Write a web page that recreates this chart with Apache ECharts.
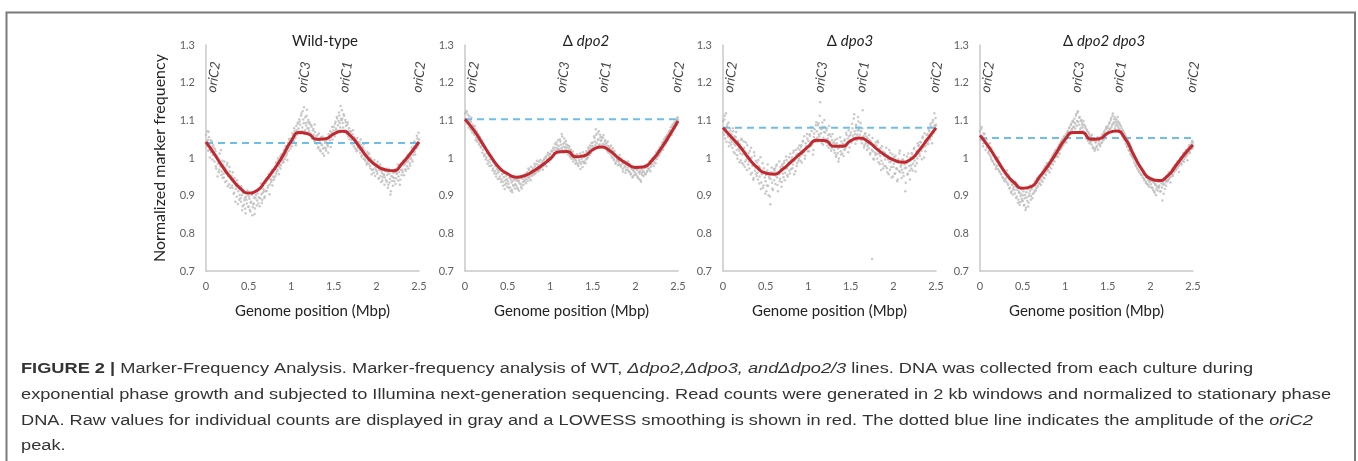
<!DOCTYPE html>
<html>
<head>
<meta charset="utf-8">
<script src="https://cdn.jsdelivr.net/npm/echarts@6/dist/echarts.min.js"></script>
<style>
html,body{margin:0;padding:0;background:#fff;}
#chart{width:1358px;height:461px;}
</style>
</head>
<body>
<div id="chart"></div>
<script>
// ---------- DATA ----------
const panelTitles = ['Wild-type', 'Δ dpo2', 'Δ dpo3', 'Δ dpo2 dpo3'];
const yTicks = [0.7, 0.8, 0.9, 1.0, 1.1, 1.2, 1.3];
const xTicks = [0, 0.5, 1, 1.5, 2, 2.5];
const originLabels = ['oriC2', 'oriC3', 'oriC1', 'oriC2'];
const originLabelX = [0.09, 1.15, 1.64, 2.5];
const originLabelY = 1.215;
const oriC2Amplitude = [1.04, 1.103, 1.08, 1.053];

// window positions (Mbp) for raw counts, set A
const windowMbp = [
0.00,0.01,0.02,0.03,0.04,0.05,0.06,0.07,0.08,0.09,
0.10,0.11,0.12,0.13,0.14,0.15,0.16,0.17,0.18,0.19,
0.20,0.21,0.22,0.23,0.24,0.25,0.26,0.27,0.28,0.29,
0.30,0.31,0.32,0.33,0.34,0.35,0.36,0.37,0.38,0.39,
0.40,0.41,0.42,0.43,0.44,0.45,0.46,0.47,0.48,0.49,
0.50,0.51,0.52,0.53,0.54,0.55,0.56,0.57,0.58,0.59,
0.60,0.61,0.62,0.63,0.64,0.65,0.66,0.67,0.68,0.69,
0.70,0.71,0.72,0.73,0.74,0.75,0.76,0.77,0.78,0.79,
0.80,0.81,0.82,0.83,0.84,0.85,0.86,0.87,0.88,0.89,
0.90,0.91,0.92,0.93,0.94,0.95,0.96,0.97,0.98,0.99,
1.00,1.01,1.02,1.03,1.04,1.05,1.06,1.07,1.08,1.09,
1.10,1.11,1.12,1.13,1.14,1.15,1.16,1.17,1.18,1.19,
1.20,1.21,1.22,1.23,1.24,1.25,1.26,1.27,1.28,1.29,
1.30,1.31,1.32,1.33,1.34,1.35,1.36,1.37,1.38,1.39,
1.40,1.41,1.42,1.43,1.44,1.45,1.46,1.47,1.48,1.49,
1.50,1.51,1.52,1.53,1.54,1.55,1.56,1.57,1.58,1.59,
1.60,1.61,1.62,1.63,1.64,1.65,1.66,1.67,1.68,1.69,
1.70,1.71,1.72,1.73,1.74,1.75,1.76,1.77,1.78,1.79,
1.80,1.81,1.82,1.83,1.84,1.85,1.86,1.87,1.88,1.89,
1.90,1.91,1.92,1.93,1.94,1.95,1.96,1.97,1.98,1.99,
2.00,2.01,2.02,2.03,2.04,2.05,2.06,2.07,2.08,2.09,
2.10,2.11,2.12,2.13,2.14,2.15,2.16,2.17,2.18,2.19,
2.20,2.21,2.22,2.23,2.24,2.25,2.26,2.27,2.28,2.29,
2.30,2.31,2.32,2.33,2.34,2.35,2.36,2.37,2.38,2.39,
2.40,2.41,2.42,2.43,2.44,2.45,2.46,2.47,2.48,2.49,
2.50];

// window positions (Mbp) for raw counts, set B
const windowMbpB = [
0.005,0.015,0.025,0.035,0.045,0.055,0.065,0.075,0.085,0.095,
0.105,0.115,0.125,0.135,0.145,0.155,0.165,0.175,0.185,0.195,
0.205,0.215,0.225,0.235,0.245,0.255,0.265,0.275,0.285,0.295,
0.305,0.315,0.325,0.335,0.345,0.355,0.365,0.375,0.385,0.395,
0.405,0.415,0.425,0.435,0.445,0.455,0.465,0.475,0.485,0.495,
0.505,0.515,0.525,0.535,0.545,0.555,0.565,0.575,0.585,0.595,
0.605,0.615,0.625,0.635,0.645,0.655,0.665,0.675,0.685,0.695,
0.705,0.715,0.725,0.735,0.745,0.755,0.765,0.775,0.785,0.795,
0.805,0.815,0.825,0.835,0.845,0.855,0.865,0.875,0.885,0.895,
0.905,0.915,0.925,0.935,0.945,0.955,0.965,0.975,0.985,0.995,
1.005,1.015,1.025,1.035,1.045,1.055,1.065,1.075,1.085,1.095,
1.105,1.115,1.125,1.135,1.145,1.155,1.165,1.175,1.185,1.195,
1.205,1.215,1.225,1.235,1.245,1.255,1.265,1.275,1.285,1.295,
1.305,1.315,1.325,1.335,1.345,1.355,1.365,1.375,1.385,1.395,
1.405,1.415,1.425,1.435,1.445,1.455,1.465,1.475,1.485,1.495,
1.505,1.515,1.525,1.535,1.545,1.555,1.565,1.575,1.585,1.595,
1.605,1.615,1.625,1.635,1.645,1.655,1.665,1.675,1.685,1.695,
1.705,1.715,1.725,1.735,1.745,1.755,1.765,1.775,1.785,1.795,
1.805,1.815,1.825,1.835,1.845,1.855,1.865,1.875,1.885,1.895,
1.905,1.915,1.925,1.935,1.945,1.955,1.965,1.975,1.985,1.995,
2.005,2.015,2.025,2.035,2.045,2.055,2.065,2.075,2.085,2.095,
2.105,2.115,2.125,2.135,2.145,2.155,2.165,2.175,2.185,2.195,
2.205,2.215,2.225,2.235,2.245,2.255,2.265,2.275,2.285,2.295,
2.305,2.315,2.325,2.335,2.345,2.355,2.365,2.375,2.385,2.395,
2.405,2.415,2.425,2.435,2.445,2.455,2.465,2.475,2.485,2.495];

const rawWT = [
1.062,1.031,1.048,1.070,1.022,1.039,1.015,1.044,1.008,1.027,
0.991,1.018,0.972,1.003,0.985,0.962,1.012,0.978,0.955,0.993,
0.982,0.948,0.975,0.961,0.939,0.987,0.952,0.930,0.965,0.944,
0.953,0.921,0.944,0.908,0.936,0.918,0.897,0.931,0.912,0.889,
0.918,0.884,0.901,0.872,0.910,0.888,0.865,0.897,0.879,0.903,
0.871,0.892,0.858,0.884,0.902,0.869,0.879,0.851,0.893,0.912,
0.887,0.915,0.896,0.872,0.921,0.904,0.889,0.928,0.911,0.898,
0.934,0.912,0.947,0.926,0.951,0.930,0.962,0.941,0.927,0.969,
0.948,0.975,0.959,0.986,0.968,0.993,0.977,1.004,0.981,0.995,
1.012,0.989,1.021,1.004,1.028,1.013,1.040,1.019,1.046,1.025,
1.052,1.031,1.060,1.044,1.072,1.053,1.085,1.062,1.094,1.070,
1.097,1.066,1.118,1.081,1.102,1.135,1.074,1.093,1.112,1.079,
1.101,1.072,1.090,1.061,1.083,1.058,1.077,1.045,1.069,1.052,
1.038,1.061,1.029,1.047,1.021,1.055,1.034,1.012,1.049,1.027,
1.044,1.019,1.052,1.031,1.063,1.040,1.071,1.056,1.082,1.061,
1.083,1.058,1.096,1.074,1.105,1.087,1.121,1.093,1.138,1.100,
1.104,1.081,1.112,1.073,1.095,1.066,1.088,1.057,1.079,1.062,
1.071,1.048,1.063,1.039,1.055,1.026,1.047,1.018,1.041,1.030,
1.042,1.013,1.035,1.007,1.026,0.998,1.019,0.992,1.011,0.987,
1.008,0.985,1.001,0.972,0.994,0.968,0.989,0.961,0.982,0.975,
0.983,0.958,0.976,0.947,0.971,0.952,0.966,0.940,0.973,0.955,
0.948,0.972,0.937,0.963,0.929,0.958,0.944,0.912,0.967,0.950,
0.961,0.938,0.970,0.946,0.958,0.983,0.951,0.976,0.942,0.968,
0.986,0.962,0.981,0.995,0.970,1.002,0.978,0.993,1.010,0.987,
1.014,0.996,1.022,1.008,1.031,1.017,1.040,1.026,1.052,1.038,
1.049];
const rawWTB = [
1.036,1.071,1.019,1.055,1.001,1.047,1.029,0.996,1.034,1.012,
1.024,0.978,1.006,0.951,0.997,0.969,0.988,1.021,0.964,0.947,
0.958,0.991,0.936,0.969,0.981,0.925,0.958,0.976,0.921,0.951,
0.927,0.962,0.905,0.947,0.884,0.925,0.941,0.878,0.919,0.902,
0.893,0.925,0.861,0.907,0.876,0.894,0.853,0.889,0.914,0.870,
0.898,0.862,0.881,0.907,0.848,0.877,0.895,0.866,0.901,0.874,
0.906,0.879,0.917,0.893,0.932,0.881,0.908,0.917,0.894,0.934,
0.913,0.940,0.921,0.957,0.904,0.944,0.936,0.968,0.951,0.942,
0.971,0.952,0.988,0.964,0.999,0.957,0.983,0.972,1.009,0.988,
0.994,1.019,0.998,1.032,1.008,0.995,1.027,1.051,1.033,1.041,
1.039,1.066,1.047,1.079,1.058,1.034,1.073,1.091,1.078,1.103,
1.088,1.112,1.071,1.124,1.092,1.064,1.108,1.086,1.128,1.094,
1.079,1.095,1.066,1.087,1.051,1.073,1.062,1.089,1.041,1.058,
1.049,1.026,1.065,1.041,1.018,1.038,1.057,1.025,1.006,1.040,
1.025,1.048,1.036,1.014,1.058,1.047,1.029,1.067,1.049,1.074,
1.065,1.091,1.078,1.109,1.069,1.098,1.113,1.081,1.104,1.127,
1.093,1.116,1.069,1.101,1.085,1.063,1.094,1.072,1.050,1.069,
1.056,1.038,1.074,1.031,1.051,1.042,1.022,1.053,1.027,1.036,
1.021,1.049,1.003,1.030,1.015,1.037,0.996,1.005,0.983,1.016,
0.993,1.012,0.979,0.999,0.957,0.984,0.970,0.995,0.952,0.969,
0.964,0.990,0.945,0.968,0.983,0.936,0.961,0.949,0.957,0.929,
0.966,0.941,0.955,0.921,0.971,0.935,0.903,0.952,0.939,0.926,
0.947,0.965,0.931,0.959,0.973,0.940,0.962,0.929,0.981,0.955,
0.969,0.993,0.954,0.984,0.966,0.989,1.008,0.972,0.999,0.980,
1.001,1.027,0.991,1.015,1.044,1.009,1.028,1.059,1.033,1.067];

const rawDpo2 = [
1.118,1.097,1.125,1.102,1.089,1.110,1.084,1.096,1.073,1.088,
1.082,1.061,1.077,1.054,1.069,1.048,1.060,1.039,1.052,1.031,
1.046,1.022,1.033,1.009,1.027,1.001,1.018,0.993,1.006,0.988,
1.004,0.981,0.996,0.972,0.989,0.965,0.983,0.958,0.976,0.962,
0.972,0.951,0.966,0.943,0.958,0.937,0.961,0.929,0.952,0.944,
0.956,0.931,0.948,0.922,0.943,0.915,0.939,0.926,0.951,0.930,
0.927,0.946,0.918,0.940,0.933,0.952,0.924,0.945,0.936,0.955,
0.938,0.957,0.944,0.962,0.949,0.968,0.953,0.941,0.966,0.957,
0.973,0.956,0.978,0.962,0.984,0.968,0.976,0.990,0.971,0.982,
0.974,0.991,0.979,0.998,0.985,1.004,0.989,1.008,0.994,1.003,
1.011,0.996,1.017,1.004,1.022,1.009,1.028,1.014,1.035,1.021,
1.032,1.018,1.044,1.026,1.057,1.030,1.015,1.041,1.024,1.036,
1.028,1.010,1.025,1.003,1.019,0.998,1.012,0.991,1.008,0.996,
1.006,0.987,1.001,0.979,0.995,1.012,0.984,0.998,0.976,1.004,
0.991,1.009,0.996,1.014,1.002,1.021,1.007,1.026,1.013,1.032,
1.041,1.022,1.053,1.034,1.062,1.028,1.047,1.071,1.036,1.055,
1.048,1.031,1.054,1.036,1.043,1.025,1.039,1.018,1.032,1.021,
1.027,1.009,1.022,1.001,1.016,0.994,1.010,0.988,1.003,0.992,
1.002,0.984,0.998,0.977,0.993,0.971,0.987,0.975,0.990,0.968,
0.986,0.969,0.981,0.962,0.977,0.958,0.973,0.951,0.970,0.963,
0.972,0.954,0.968,0.947,0.963,0.958,0.941,0.971,0.955,0.966,
0.962,0.978,0.957,0.975,0.966,0.983,0.970,0.987,0.976,0.992,
0.984,1.001,0.990,1.008,0.997,1.013,1.004,1.021,1.010,1.027,
1.019,1.036,1.028,1.044,1.033,1.051,1.040,1.058,1.047,1.066,
1.059,1.074,1.066,1.083,1.072,1.089,1.078,1.095,1.086,1.104,
1.101];
const rawDpo2B = [
1.104,1.121,1.092,1.115,1.081,1.099,1.076,1.107,1.068,1.083,
1.066,1.085,1.047,1.071,1.043,1.063,1.035,1.056,1.028,1.046,
1.014,1.038,1.005,1.029,0.996,1.013,0.985,1.009,0.979,0.997,
0.979,0.998,0.967,0.991,0.959,0.978,0.951,0.970,0.944,0.966,
0.945,0.968,0.936,0.957,0.926,0.949,0.918,0.941,0.933,0.924,
0.938,0.921,0.947,0.913,0.935,0.909,0.928,0.944,0.919,0.940,
0.943,0.921,0.938,0.913,0.947,0.930,0.919,0.951,0.928,0.942,
0.950,0.933,0.959,0.939,0.972,0.946,0.961,0.977,0.952,0.969,
0.961,0.985,0.958,0.972,0.993,0.964,0.981,0.967,0.995,0.977,
0.987,0.969,0.995,0.982,1.001,0.978,0.996,1.014,0.990,1.009,
0.998,1.019,1.006,1.027,1.013,1.037,1.020,1.042,1.026,1.048,
1.023,1.049,1.035,1.064,1.021,1.038,1.052,1.029,1.045,1.018,
1.034,1.016,1.031,1.007,1.022,1.004,1.017,0.999,1.005,0.985,
0.993,1.010,0.983,1.004,0.989,0.971,1.008,0.990,1.015,0.987,
1.003,0.986,1.018,0.999,1.027,1.010,1.033,1.016,1.040,1.024,
1.030,1.058,1.044,1.076,1.039,1.066,1.050,1.035,1.062,1.045,
1.056,1.037,1.061,1.029,1.047,1.033,1.026,1.044,1.014,1.029,
1.015,1.033,1.004,1.026,0.998,1.019,0.985,1.007,0.996,0.981,
0.991,1.008,0.981,0.999,0.985,0.964,0.993,0.979,0.961,0.983,
0.975,0.991,0.965,0.984,0.956,0.971,0.948,0.966,0.955,0.974,
0.959,0.977,0.950,0.972,0.944,0.965,0.937,0.961,0.976,0.952,
0.974,0.958,0.982,0.963,0.979,0.972,0.991,0.965,0.983,0.998,
0.993,0.979,1.004,0.986,1.015,0.999,1.019,1.006,1.028,1.015,
1.029,1.041,1.022,1.049,1.038,1.056,1.043,1.062,1.052,1.071,
1.067,1.081,1.061,1.088,1.077,1.094,1.083,1.101,1.091,1.108];

const rawDpo3 = [
1.098,1.061,1.112,1.074,1.043,1.089,1.056,1.031,1.078,1.049,
1.064,1.027,1.071,1.038,1.012,1.055,1.021,0.998,1.046,1.019,
1.036,0.994,1.048,1.009,0.982,1.027,0.991,1.041,0.968,1.004,
1.013,0.972,0.998,1.027,0.961,0.985,0.947,1.006,0.974,0.958,
0.988,0.943,0.979,0.951,1.002,0.935,0.966,0.921,0.973,0.948,
0.938,0.912,0.967,0.926,0.951,0.898,0.944,0.975,0.919,0.960,
0.941,0.972,0.953,0.983,0.928,0.962,0.991,0.945,0.970,0.936,
0.978,0.949,0.992,0.961,1.004,0.972,0.951,0.989,0.967,1.011,
0.971,1.002,0.983,1.019,0.992,0.965,1.008,0.987,1.026,0.998,
1.021,0.993,1.034,1.009,1.046,1.017,0.998,1.039,1.024,1.052,
1.046,1.018,1.059,1.031,1.072,1.042,1.021,1.065,1.049,1.087,
1.071,1.043,1.092,1.058,1.148,1.066,1.039,1.083,1.054,1.101,
1.068,1.041,1.079,1.052,1.027,1.063,1.036,1.019,1.048,1.031,
1.042,1.014,1.036,1.008,1.051,1.025,0.999,1.033,1.018,1.044,
1.012,1.038,1.021,1.049,1.029,1.061,1.037,1.015,1.058,1.043,
1.068,1.041,1.079,1.052,1.116,1.063,1.088,1.047,1.073,1.097,
1.081,1.052,1.071,1.039,1.127,1.058,1.034,1.066,1.045,1.021,
1.052,1.026,1.047,1.013,1.039,0.732,1.018,0.996,1.035,1.008,
1.033,0.998,1.041,1.011,0.984,1.026,0.993,1.017,0.972,1.006,
1.013,0.978,1.004,0.962,0.996,1.021,0.969,0.991,0.948,1.009,
0.976,1.002,0.958,0.994,0.971,0.943,0.988,1.012,0.962,0.981,
0.969,0.997,0.952,0.983,0.912,0.975,1.004,0.958,0.991,0.966,
1.001,0.972,1.009,0.985,1.024,0.993,0.964,1.018,0.999,1.032,
1.034,1.005,1.041,1.019,1.053,1.028,1.001,1.046,1.032,1.061,
1.063,1.037,1.071,1.049,1.084,1.058,1.095,1.072,1.119,1.083,
1.088];
const rawDpo3B = [
1.067,1.102,1.052,1.119,1.083,1.061,1.094,1.041,1.072,1.036,
1.043,1.079,1.016,1.058,1.033,1.069,1.007,1.042,1.025,0.989,
1.012,1.051,0.987,1.023,1.044,0.976,1.015,0.996,1.034,0.983,
0.991,1.019,0.956,1.001,0.979,0.942,1.015,0.966,0.993,0.952,
0.961,0.995,0.932,0.974,0.918,0.957,0.986,0.927,0.964,0.905,
0.955,0.927,0.983,0.901,0.946,0.877,0.962,0.934,0.915,0.971,
0.966,0.931,0.979,0.948,0.912,0.957,0.938,0.976,0.924,0.983,
0.958,0.987,0.941,0.976,0.995,0.955,0.983,1.002,0.959,0.993,
0.996,0.973,1.014,0.957,0.999,1.021,0.979,1.011,0.992,1.033,
1.004,1.029,0.988,1.043,1.015,1.058,1.006,1.031,1.064,1.018,
1.029,1.063,1.041,1.082,1.035,1.009,1.056,1.076,1.043,1.095,
1.054,1.087,1.063,1.112,1.047,1.076,1.094,1.035,1.069,1.082,
1.049,1.074,1.033,1.061,1.085,1.042,1.057,1.026,1.064,1.039,
1.021,1.048,1.003,1.039,1.013,0.991,1.028,1.055,1.009,1.036,
1.031,1.005,1.046,1.023,1.067,1.035,1.052,1.074,1.028,1.061,
1.047,1.091,1.059,1.105,1.071,1.038,1.084,1.062,1.109,1.075,
1.062,1.093,1.047,1.079,1.055,1.028,1.064,1.039,1.057,1.032,
1.037,1.061,1.009,1.044,1.022,1.053,0.998,1.029,1.014,1.042,
1.011,1.046,0.989,1.024,1.005,0.968,1.031,0.985,1.016,0.979,
0.996,1.027,0.973,1.005,0.957,0.989,1.014,0.976,0.999,0.951,
0.985,0.959,1.006,0.973,0.938,0.997,0.966,1.019,0.977,0.947,
0.994,0.961,1.008,0.973,0.934,0.987,0.956,1.012,0.979,0.943,
0.981,1.013,0.967,0.998,1.027,0.979,1.005,0.986,1.039,1.011,
1.012,1.043,1.024,0.997,1.057,1.031,1.066,1.018,1.049,1.038,
1.044,1.076,1.053,1.091,1.062,1.039,1.101,1.068,1.087,1.106];

const rawDpo23 = [
1.071,1.048,1.082,1.055,1.039,1.063,1.041,1.052,1.028,1.037,
1.031,1.009,1.024,0.998,1.016,0.991,1.006,0.982,0.999,0.977,
0.994,0.971,0.989,0.963,0.978,0.956,0.972,0.947,0.965,0.942,
0.961,0.937,0.953,0.928,0.944,0.921,0.936,0.912,0.930,0.918,
0.931,0.906,0.924,0.898,0.915,0.889,0.910,0.883,0.905,0.892,
0.887,0.911,0.876,0.902,0.868,0.895,0.918,0.881,0.906,0.927,
0.899,0.922,0.905,0.931,0.913,0.938,0.920,0.947,0.926,0.941,
0.932,0.955,0.941,0.963,0.949,0.972,0.958,0.979,0.964,0.985,
0.968,0.989,0.976,0.998,0.985,1.006,0.993,1.014,1.001,1.021,
1.008,1.027,1.014,1.036,1.022,1.043,1.030,1.051,1.038,1.058,
1.044,1.063,1.052,1.072,1.060,1.081,1.069,1.091,1.077,1.099,
1.083,1.104,1.091,1.117,1.098,1.124,1.088,1.109,1.079,1.101,
1.093,1.071,1.088,1.064,1.079,1.057,1.071,1.049,1.063,1.044,
1.058,1.036,1.051,1.029,1.047,1.024,1.043,1.032,1.055,1.038,
1.048,1.031,1.056,1.042,1.063,1.050,1.071,1.058,1.082,1.066,
1.084,1.067,1.095,1.078,1.106,1.088,1.118,1.094,1.109,1.086,
1.103,1.086,1.097,1.077,1.089,1.066,1.079,1.058,1.071,1.049,
1.061,1.038,1.052,1.029,1.044,1.019,1.033,1.008,1.023,1.001,
1.011,0.988,1.002,0.979,0.994,0.970,0.985,0.962,0.976,0.955,
0.969,0.948,0.963,0.941,0.956,0.933,0.951,0.928,0.944,0.936,
0.943,0.922,0.939,0.915,0.934,0.908,0.931,0.918,0.941,0.924,
0.921,0.938,0.912,0.933,0.887,0.929,0.946,0.918,0.937,0.952,
0.938,0.956,0.944,0.961,0.950,0.968,0.957,0.974,0.963,0.979,
0.968,0.986,0.974,0.991,0.980,0.997,0.986,1.003,0.992,1.009,
0.998,1.016,1.004,1.022,1.011,1.029,1.017,1.035,1.024,1.046,
1.041];
const rawDpo23B = [
1.049,1.077,1.058,1.031,1.066,1.042,1.021,1.049,1.035,1.014,
1.018,1.039,1.004,1.027,0.993,1.012,0.985,1.003,0.971,0.992,
0.980,1.001,0.966,0.984,0.958,0.977,0.949,0.968,0.939,0.957,
0.946,0.967,0.932,0.955,0.919,0.941,0.908,0.929,0.903,0.924,
0.915,0.937,0.894,0.921,0.881,0.908,0.876,0.899,0.917,0.885,
0.901,0.874,0.893,0.862,0.909,0.886,0.871,0.899,0.913,0.889,
0.917,0.893,0.928,0.907,0.935,0.914,0.942,0.924,0.951,0.933,
0.945,0.928,0.959,0.937,0.968,0.946,0.977,0.955,0.986,0.969,
0.979,0.962,0.994,0.972,1.002,0.983,1.010,0.991,1.019,1.003,
1.019,1.003,1.031,1.011,1.040,1.026,1.047,1.033,1.056,1.041,
1.056,1.041,1.068,1.054,1.079,1.063,1.087,1.074,1.096,1.082,
1.094,1.078,1.112,1.085,1.121,1.096,1.107,1.073,1.099,1.087,
1.081,1.098,1.066,1.084,1.052,1.075,1.046,1.068,1.039,1.057,
1.044,1.062,1.026,1.049,1.019,1.041,1.028,1.050,1.022,1.045,
1.036,1.053,1.039,1.061,1.047,1.068,1.055,1.076,1.062,1.079,
1.072,1.091,1.076,1.101,1.083,1.112,1.091,1.103,1.079,1.097,
1.092,1.109,1.082,1.093,1.071,1.085,1.062,1.074,1.053,1.066,
1.045,1.057,1.032,1.048,1.021,1.039,1.012,1.027,1.004,1.015,
0.996,1.006,0.983,0.998,0.974,0.989,0.966,0.980,0.958,0.971,
0.954,0.966,0.945,0.958,0.937,0.949,0.931,0.941,0.924,0.939,
0.930,0.946,0.921,0.937,0.912,0.929,0.901,0.925,0.914,0.936,
0.927,0.911,0.941,0.922,0.936,0.905,0.931,0.943,0.926,0.939,
0.941,0.962,0.948,0.935,0.957,0.971,0.952,0.966,0.982,0.969,
0.972,0.991,0.979,0.963,0.987,1.001,0.983,0.996,1.013,0.990,
1.003,1.021,1.008,0.994,1.018,1.034,1.013,1.029,1.041,1.026];

// LOWESS smoothing
const smoothMbp = [0,0.1,0.2,0.3,0.4,0.5,0.6,0.7,0.8,0.9,1.0,1.1,1.2,1.3,1.4,1.5,1.6,1.7,1.8,1.9,2.0,2.1,2.2,2.3,2.4,2.5];
const lowessWT    = [1.043,1.010,0.975,0.945,0.920,0.907,0.914,0.940,0.970,1.005,1.045,1.068,1.064,1.050,1.051,1.064,1.071,1.058,1.030,1.000,0.980,0.969,0.966,0.985,1.012,1.043];
const lowessDpo2  = [1.103,1.075,1.040,1.005,0.975,0.958,0.949,0.953,0.965,0.980,0.998,1.016,1.017,1.003,1.006,1.022,1.029,1.019,1.000,0.985,0.975,0.977,0.995,1.025,1.060,1.098];
const lowessDpo3  = [1.080,1.055,1.030,1.000,0.975,0.960,0.957,0.970,0.990,1.010,1.030,1.047,1.046,1.031,1.031,1.046,1.053,1.044,1.025,1.008,0.995,0.989,0.996,1.020,1.050,1.080];
const lowessDpo23 = [1.060,1.030,0.995,0.960,0.935,0.920,0.924,0.950,0.980,1.015,1.050,1.068,1.068,1.050,1.051,1.066,1.072,1.053,1.010,0.970,0.945,0.940,0.952,0.980,1.010,1.035];

const rawSets = [rawWT, rawDpo2, rawDpo3, rawDpo23];
const rawSetsB = [rawWTB, rawDpo2B, rawDpo3B, rawDpo23B];
const lowessSets = [lowessWT, lowessDpo2, lowessDpo3, lowessDpo23];

// ---------- LAYOUT ----------
const gridLeft = [206, 465, 723, 980];
const gridWidth = 213;
const gridTop = 45;
const gridHeight = 226;
const titleCenters = [320, 581, 845, 1099];
const FONT = 'Lato, "Open Sans", sans-serif';

const grids = [], xAxes = [], yAxes = [], series = [], titles = [];
for (let p = 0; p < 4; p++) {
  grids.push({left: gridLeft[p], top: gridTop, width: gridWidth, height: gridHeight});
  xAxes.push({
    type: 'value', gridIndex: p, min: 0, max: 2.5, interval: 0.5,
    axisLine: {show: true, lineStyle: {color: '#c8c8c8', width: 1.5}},
    axisTick: {show: false}, splitLine: {show: false},
    axisLabel: {color: '#606060', fontSize: 11, fontFamily: FONT, margin: 10,
      formatter: v => String(v)},
    name: 'Genome position (Mbp)', nameLocation: 'middle', nameGap: 33,
    nameTextStyle: {color: '#222', fontSize: 15, fontFamily: FONT}
  });
  yAxes.push({
    type: 'value', gridIndex: p, min: 0.7, max: 1.3, interval: 0.1,
    axisLine: {show: true, lineStyle: {color: '#c8c8c8', width: 1.5}},
    axisTick: {show: false}, splitLine: {show: false},
    axisLabel: {color: '#606060', fontSize: 11, fontFamily: FONT, margin: 11,
      formatter: v => String(Math.round(v * 10) / 10)},
    name: p === 0 ? 'Normalized marker frequency' : '',
    nameLocation: 'middle', nameGap: 38,
    nameTextStyle: {color: '#222', fontSize: 16, fontFamily: FONT}
  });
  const raw = rawSets[p], rawB = rawSetsB[p];
  series.push({
    type: 'scatter', xAxisIndex: p, yAxisIndex: p, symbolSize: 2.5,
    itemStyle: {color: '#bcbcbc'}, silent: true,
    data: windowMbp.map((x, i) => [x, raw[i]]), z: 1
  });
  series.push({
    type: 'scatter', xAxisIndex: p, yAxisIndex: p, symbolSize: 2.5,
    itemStyle: {color: '#bcbcbc'}, silent: true,
    data: windowMbpB.map((x, i) => [x, rawB[i]]), z: 1
  });
  series.push({
    type: 'line', xAxisIndex: p, yAxisIndex: p, showSymbol: false, symbol: 'none',
    lineStyle: {color: '#6cc0e8', width: 2, type: [7, 5]},
    data: [[0, oriC2Amplitude[p]], [2.5, oriC2Amplitude[p]]], z: 2
  });
  const low = lowessSets[p];
  series.push({
    type: 'line', xAxisIndex: p, yAxisIndex: p, smooth: 0.6, showSymbol: false, symbol: 'none',
    lineStyle: {color: '#c3282e', width: 3},
    data: smoothMbp.map((x, i) => [x, low[i]]), z: 3
  });
  series.push({
    type: 'scatter', xAxisIndex: p, yAxisIndex: p, symbolSize: 0, clip: false, silent: true,
    label: {show: true, position: 'inside', rotate: 82, fontStyle: 'italic',
      fontSize: 13.5, color: '#111', fontFamily: FONT,
      formatter: pr => originLabels[pr.dataIndex]},
    data: originLabelX.map(x => [x, originLabelY]), z: 4
  });
  const t = panelTitles[p];
  let text;
  if (t.startsWith('Δ')) text = 'Δ {i|' + t.slice(2) + '}';
  else text = t;
  titles.push({
    text: text, left: titleCenters[p], top: 29, textAlign: 'center',
    textStyle: {fontSize: 15, fontWeight: 'normal', color: '#222', fontFamily: FONT,
      rich: {i: {fontStyle: 'italic', fontSize: 15, color: '#222', fontFamily: FONT}}}
  });
}

const capFont = '"Liberation Sans", Arial, sans-serif';
const capSize = 15.5;
const capScaleX = 1.175;
const capRich = {
  b: {fontWeight: 'bold', fontSize: capSize, fontFamily: capFont, color: '#111'},
  i: {fontStyle: 'italic', fontSize: capSize, fontFamily: capFont, color: '#333'},
  n: {fontSize: capSize, fontFamily: capFont, color: '#333'}
};
const captionLines = [
  '{b|FIGURE 2 |}{n| Marker-Frequency Analysis. Marker-frequency analysis of WT, }{i|Δdpo2,Δdpo3, andΔdpo2/3}{n| lines. DNA was collected from each culture during}',
  '{n|exponential phase growth and subjected to Illumina next-generation sequencing. Read counts were generated in 2 kb windows and normalized to stationary phase}',
  '{n|DNA. Raw values for individual counts are displayed in gray and a LOWESS smoothing is shown in red. The dotted blue line indicates the amplitude of the }{i|oriC2}',
  '{n|peak.}'
];
const captionY = [369, 395, 421, 446];

const graphics = [{
  type: 'rect', shape: {x: 6.5, y: 12.5, width: 1348.5, height: 520},
  style: {fill: 'none', stroke: '#7a7a7a', lineWidth: 2}, silent: true
}];
captionLines.forEach((ln, k) => {
  graphics.push({
    type: 'text', x: 21, y: captionY[k], scaleX: capScaleX,
    style: {text: ln, rich: capRich, fill: '#333', verticalAlign: 'middle',
      font: capSize + 'px ' + capFont}
  });
});

const chart = echarts.init(document.getElementById('chart'), null, {renderer: 'canvas'});
chart.setOption({
  animation: false,
  backgroundColor: '#fff',
  title: titles,
  grid: grids,
  xAxis: xAxes,
  yAxis: yAxes,
  series: series,
  graphic: graphics
});
</script>
</body>
</html>
